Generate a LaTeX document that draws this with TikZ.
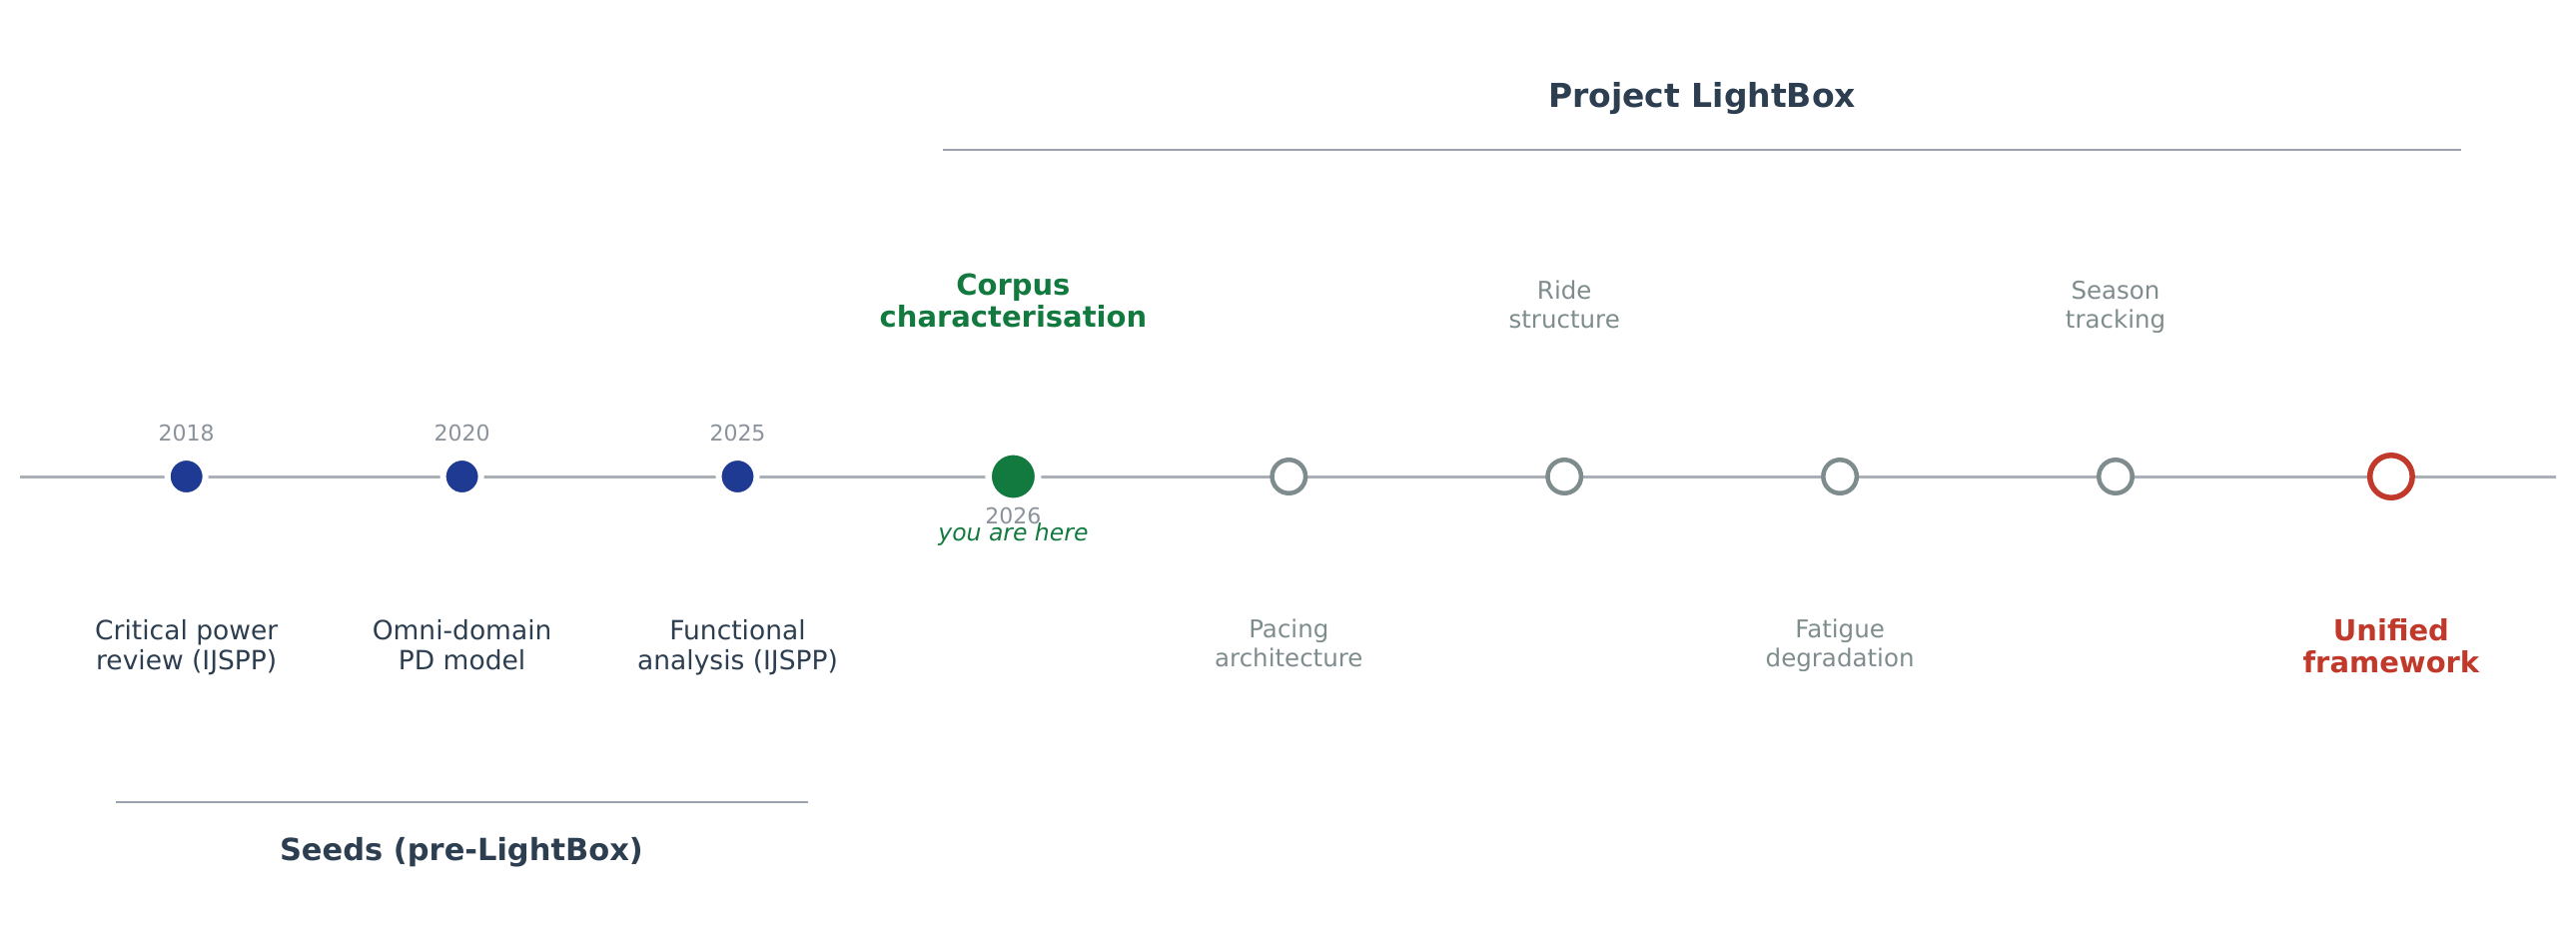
\documentclass[tikz,border=0pt]{standalone}
\usepackage{fontspec}
\setmainfont{DejaVu Sans}
\definecolor{lbdark}{HTML}{2C3E50}
\definecolor{lbblue}{HTML}{1F3A93}
\definecolor{lbgreen}{HTML}{137A3F}
\definecolor{lbred}{HTML}{C0392B}
\definecolor{lbgray}{HTML}{7F8C8D}
\definecolor{lbmist}{HTML}{8A929C}
\definecolor{lbline}{HTML}{AAB0B8}
\definecolor{lbbar}{HTML}{9AA3AD}
\tikzstyle{lbtrack}=[draw=lbline,line width=3pt]
\tikzstyle{lbspan}=[draw=lbbar,line width=2.5pt]
\tikzstyle{lbdone}=[circle,inner sep=0pt,fill=lbblue,draw=white,line width=6pt,minimum size=38pt]
\tikzstyle{lbnowdot}=[circle,inner sep=0pt,fill=lbgreen,draw=white,line width=6.5pt,minimum size=49.5pt]
\tikzstyle{lbnext}=[circle,inner sep=0pt,fill=white,draw=lbgray,line width=4.5pt,minimum size=33.5pt]
\tikzstyle{lbgoaldot}=[circle,inner sep=0pt,fill=white,draw=lbred,line width=5.5pt,minimum size=42.5pt]
\tikzstyle{lbyear}=[inner sep=0pt,anchor=base,text=lbmist,font=\fontsize{22}{26}\selectfont]
\tikzstyle{lblabel}=[align=center,inner sep=0pt,text=lbdark,font=\fontsize{26.5}{30}\selectfont]
\tikzstyle{lbmuted}=[align=center,inner sep=0pt,text=lbgray,font=\fontsize{24.5}{28.5}\selectfont]
\tikzstyle{lbnow}=[align=center,inner sep=0pt,text=lbgreen,font=\fontsize{29}{32}\selectfont\bfseries]
\tikzstyle{lbgoal}=[align=center,inner sep=0pt,text=lbred,font=\fontsize{29}{32}\selectfont\bfseries]
\tikzstyle{lbtitle}=[inner sep=0pt,anchor=base,text=lbdark,font=\fontsize{33}{38}\selectfont\bfseries]

\begin{document}
\begin{tikzpicture}[x=1pt,y=-1pt]
    \useasboundingbox (0,0) rectangle (2579,940);

    % ---- the track ----
    \coordinate (tw) at (20,477);
    \coordinate (te) at (2559,477);
    \draw[lbtrack] (tw) -- (te);

    % ---- seeds (pre-LightBox) ----
    \foreach \n/\x/\yr in {m1/186.7/2018,m2/462.6/2020,m3/738.5/2025} {
      \node[lbdone] (\n) at (\x,477) {};
      \node[lbyear] (\n-yr) at (\x,441.7) {\yr};
    }
    \node[lblabel,anchor=north] (l1) at (186.7,620) {Critical power\\review (IJSPP)};
    \node[lblabel,anchor=north] (l2) at (462.6,620) {Omni-domain\\PD model};
    \node[lblabel,anchor=north] (l3) at (738.5,620) {Functional\\analysis (IJSPP)};

    % ---- now ----
    \node[lbnowdot] (m4) at (1014.4,477) {};
    \node[lbyear] (m4-yr) at (1014.4,524) {2026};
    \node[anchor=base,inner sep=0pt,text=lbgreen,font=\fontsize{23.5}{28}\selectfont\itshape] (here) at (1014.4,541.5) {you are here};
    \node[lbnow,anchor=base] (l4) at (1014.4,327) {Corpus\\characterisation};

    % ---- LightBox studies ----
    \node[lbnext] (m5) at (1290.3,477) {};
    \node[lbnext] (m6) at (1566.2,477) {};
    \node[lbnext] (m7) at (1842.1,477) {};
    \node[lbnext] (m8) at (2118.0,477) {};
    \node[lbgoaldot] (m9) at (2393.9,477) {};
    \node[lbmuted,anchor=north] (l5) at (1290.3,620) {Pacing\\architecture};
    \node[lbmuted,anchor=base] (l6) at (1566.2,328) {Ride\\structure};
    \node[lbmuted,anchor=north] (l7) at (1842.1,620) {Fatigue\\degradation};
    \node[lbmuted,anchor=base] (l8) at (2118.0,328) {Season\\tracking};
    \node[lbgoal,anchor=north] (l9) at (2393.9,619) {Unified\\framework};

    % ---- group spans ----
    \coordinate (pw) at (944,150);
    \coordinate (pe) at (2464,150);
    \draw[lbspan] (pw) -- (pe);
    \node[lbtitle] (proj) at (1704,107) {Project LightBox};
    \coordinate (sw) at (116,803);
    \coordinate (se) at (808.5,803);
    \draw[lbspan] (sw) -- (se);
    \node[lbtitle,font=\fontsize{30.5}{35}\selectfont\bfseries] (seeds) at (462,861.7) {Seeds (pre-LightBox)};
\end{tikzpicture}
\end{document}
